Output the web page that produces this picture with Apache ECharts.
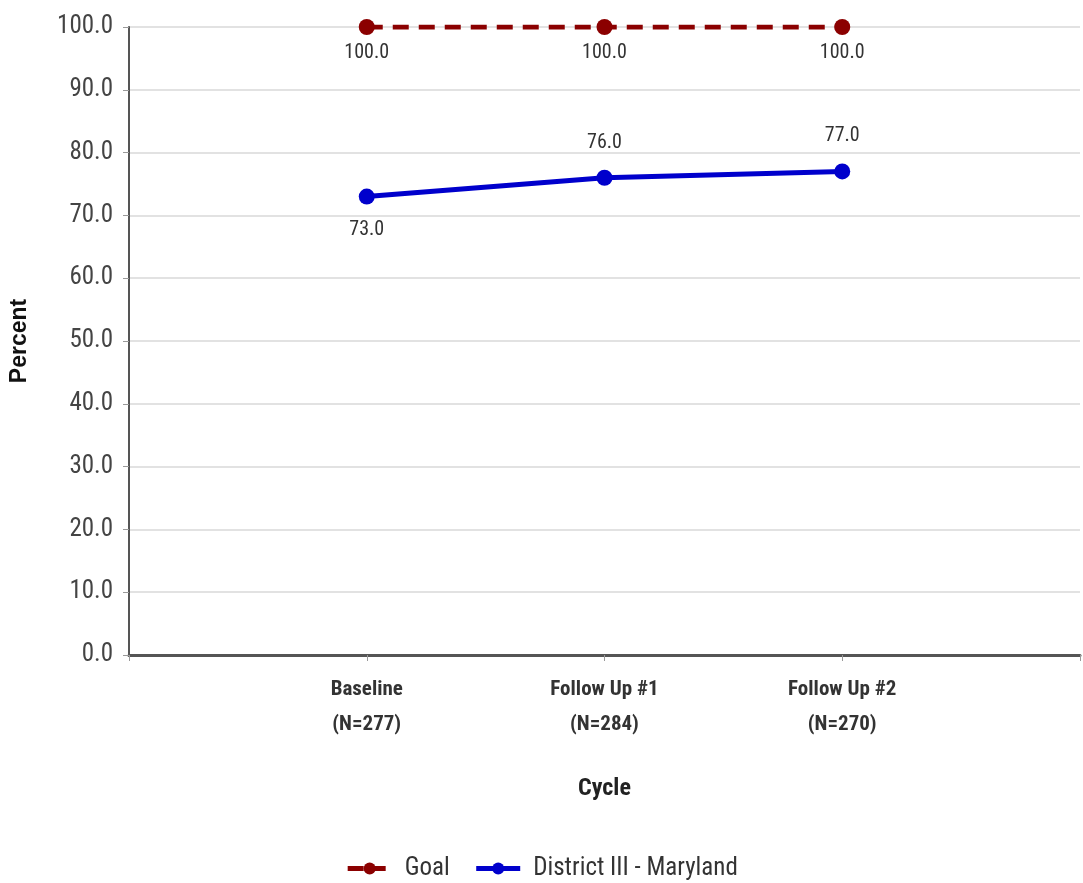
<!DOCTYPE html>
<html><head><meta charset="utf-8">
<script src="https://cdn.jsdelivr.net/npm/echarts@6/dist/echarts.min.js"></script>
<style>html,body{margin:0;padding:0;background:#fff}#c{width:1083px;height:883px}</style>
</head><body><div id="c"></div>
<script>
const categories = ['', 'Baseline\n(N=277)', 'Follow Up #1\n(N=284)', 'Follow Up #2\n(N=270)', ''];
const goalValues = [null, 100, 100, 100, null];
const districtValues = [null, 73, 76, 77, null];
const yTicks = [0, 100, 10];
const FONT = "'Liberation Sans Narrow','Roboto Condensed','Roboto',sans-serif";

const chart = echarts.init(document.getElementById('c'));
chart.setOption({
  animation: false,
  textStyle: { fontFamily: FONT },
  grid: { left: 128, right: -2, top: 27, bottom: 228, containLabel: false },
  legend: {
    bottom: -3, left: 'center',
    itemWidth: 44, itemHeight: 15, itemGap: 24,
    textStyle: { fontFamily: FONT, fontSize: 25, color: '#333', padding: [0, 0, 0, 8] },
    data: [
      { name: 'Goal', lineStyle: { width: 5, type: [16, 6] } },
      { name: 'District III - Maryland', lineStyle: { width: 5 } }
    ]
  },
  xAxis: {
    type: 'category', data: categories, boundaryGap: false,
    name: 'Cycle', nameLocation: 'middle', nameGap: 122,
    nameTextStyle: { fontFamily: FONT, fontSize: 24, fontWeight: 'bold', color: '#222' },
    axisLine: { lineStyle: { color: '#555', width: 3 } },
    axisTick: { show: true, length: 6, lineStyle: { color: '#999' } },
    axisLabel: { fontFamily: FONT, fontSize: 21, fontWeight: 'bold', color: '#333', lineHeight: 35, margin: 17 },
    splitLine: { show: false }
  },
  yAxis: {
    type: 'value', min: yTicks[0], max: yTicks[1], interval: yTicks[2],
    name: 'Percent', nameLocation: 'middle', nameGap: 98, nameRotate: 90,
    nameTextStyle: { fontFamily: 'Liberation Sans', fontSize: 23, fontWeight: 'bold', color: '#111' },
    axisLine: { show: true, lineStyle: { color: '#555', width: 2 } },
    axisTick: { show: true, length: 6, lineStyle: { color: '#999' } },
    axisLabel: { fontFamily: FONT, fontSize: 25, color: '#444', margin: 16,
      formatter: v => v.toFixed(1) },
    splitLine: { lineStyle: { color: '#e2e2e2', width: 2 } }
  },
  series: [
    {
      name: 'Goal', type: 'line', data: goalValues,
      symbol: 'circle', symbolSize: 16,
      itemStyle: { color: '#8B0000' },
      lineStyle: { color: '#8B0000', width: 5, type: [16, 10] },
      label: { show: true, position: 'bottom', distance: 8, fontFamily: FONT, fontSize: 20, color: '#333',
        formatter: p => p.value.toFixed(1) }
    },
    {
      name: 'District III - Maryland', type: 'line', data: districtValues,
      symbol: 'circle', symbolSize: 16,
      itemStyle: { color: '#0000CC' },
      lineStyle: { color: '#0000CC', width: 5 },
      label: { show: true, fontFamily: FONT, fontSize: 20, color: '#333', distance: 17,
        position: 'top', formatter: p => p.value.toFixed(1) }
    }
  ]
});
chart.setOption({ series: [{}, { data: districtValues.map((v, i) => i === 1 ? { value: v, label: { position: 'bottom', distance: 15 } } : v) }] });
</script></body></html>
